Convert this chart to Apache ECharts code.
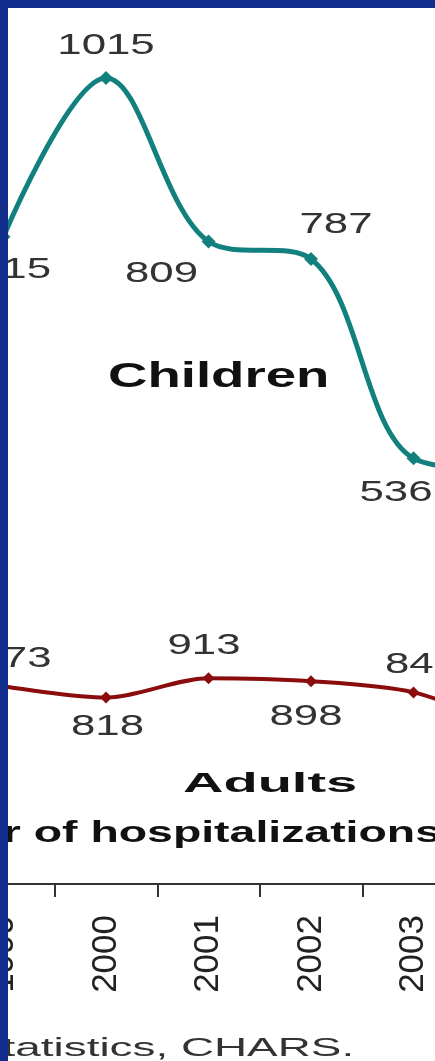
<!DOCTYPE html>
<html>
<head>
<meta charset="utf-8">
<script src="https://cdn.jsdelivr.net/npm/echarts@6/dist/echarts.min.js"></script>
<style>
html,body{margin:0;padding:0;background:#ffffff;overflow:hidden;width:435px;height:1061px;position:relative;}
#chart{position:absolute;left:-60px;top:0;width:700px;height:1061px;}
</style>
</head>
<body>
<div id="chart"></div>
<script>
// ---- data ----
const years = ['1999', '2000', '2001', '2002', '2003', '2004'];
const children = [815, 1015, 809, 787, 536, 520];
const adults = [873, 818, 913, 898, 843, 660];
const childrenName = 'Children';
const adultsName = 'Adults';
const axisTitle = 'Number of hospitalizations';
const sourceNote = 'Statistics, CHARS.';

// ---- styling ----
const SHIFT = 60; // chart canvas starts 60px left of the page
const TEAL = '#12807e';
const MAROON = '#8a0c0c';
const BORDER = '#122e8c';
const childLabelOffsets = [[11, 33], [0, -32.5], [-47, 32], [25, -34.5], [-17.5, 34.5], [0, 34]];
const adultLabelOffsets = [[11.5, -28], [1.5, 29], [-4.5, -32.5], [-5, 35], [8, -27.5], [0, -28]];

function labelSeries(values, yIdx, offsets) {
  return {
    type: 'custom',
    coordinateSystem: 'cartesian2d',
    xAxisIndex: 0,
    yAxisIndex: yIdx,
    silent: true,
    z: 5,
    data: values.map((v, i) => [i, v]),
    renderItem: function (params, api) {
      const p = api.coord([api.value(0), api.value(1)]);
      const o = offsets[params.dataIndex] || [0, 0];
      return {
        type: 'text',
        x: p[0] + o[0],
        y: p[1] + o[1],
        scaleX: 1.46,
        style: {
          text: String(api.value(1)),
          fontSize: 30,
          fontFamily: '"Liberation Sans", Arial, sans-serif',
          fill: '#333333',
          textAlign: 'center',
          textVerticalAlign: 'middle'
        }
      };
    }
  };
}

const chart = echarts.init(document.getElementById('chart'), null, { renderer: 'canvas' });
chart.setOption({
  animation: false,
  backgroundColor: '#ffffff',
  grid: { left: SHIFT - 47.75, width: 615, top: 10.4, bottom: 177, containLabel: false },
  xAxis: {
    type: 'category',
    data: years,
    boundaryGap: true,
    axisLine: { show: true, lineStyle: { color: '#333333', width: 2 } },
    axisTick: { show: true, length: 13, lineStyle: { color: '#333333', width: 2 } },
    axisLabel: {
      interval: 0,
      rotate: 90,
      margin: 31,
      fontSize: 35,
      padding: [0, 0, 12, 0],
      fontFamily: '"Liberation Sans", Arial, sans-serif',
      color: '#222222'
    },
    splitLine: { show: false }
  },
  yAxis: [
    { type: 'value', min: 0, max: 1100, show: false, splitLine: { show: false } },
    { type: 'value', min: -100, max: 4200, show: false, splitLine: { show: false } }
  ],
  series: [
    {
      name: childrenName,
      type: 'line',
      yAxisIndex: 0,
      data: children,
      smooth: 0.35,
      symbol: 'diamond',
      symbolSize: 14,
      lineStyle: { color: TEAL, width: 5 },
      itemStyle: { color: TEAL },
      z: 3
    },
    {
      name: adultsName,
      type: 'line',
      yAxisIndex: 1,
      data: adults,
      smooth: 0.3,
      symbol: 'diamond',
      symbolSize: 12,
      lineStyle: { color: MAROON, width: 4 },
      itemStyle: { color: MAROON },
      z: 3
    },
    labelSeries(children, 0, childLabelOffsets),
    labelSeries(adults, 1, adultLabelOffsets)
  ],
  graphic: [
    {
      type: 'text', x: SHIFT + 108, y: 377, scaleX: 1.56, z: 50,
      style: { text: childrenName, fontSize: 35, fontWeight: 'bold', fontFamily: '"Liberation Sans", Arial, sans-serif', fill: '#111111', textAlign: 'left', textVerticalAlign: 'middle' }
    },
    {
      type: 'text', x: SHIFT + 183, y: 784, scaleX: 2.0, z: 50,
      style: { text: adultsName, fontSize: 28, fontWeight: 'bold', fontFamily: '"Liberation Sans", Arial, sans-serif', fill: '#111111', textAlign: 'left', textVerticalAlign: 'middle' }
    },
    {
      type: 'text', x: SHIFT + 441, y: 834, scaleX: 1.6, z: 50,
      style: { text: axisTitle, fontSize: 29, fontWeight: 'bold', fontFamily: '"Liberation Sans", Arial, sans-serif', fill: '#111111', textAlign: 'right', textVerticalAlign: 'middle' }
    },
    {
      type: 'text', x: SHIFT - 28, y: 1049, scaleX: 1.73, z: 50,
      style: { text: sourceNote, fontSize: 26.5, fontFamily: '"Liberation Sans", Arial, sans-serif', fill: '#333333', textAlign: 'left', textVerticalAlign: 'middle' }
    },
    { type: 'rect', z: 100, shape: { x: 0, y: 0, width: SHIFT + 8, height: 1061 }, style: { fill: BORDER } },
    { type: 'rect', z: 100, shape: { x: 0, y: 0, width: 700, height: 8 }, style: { fill: BORDER } }
  ]
});
</script>
</body>
</html>
